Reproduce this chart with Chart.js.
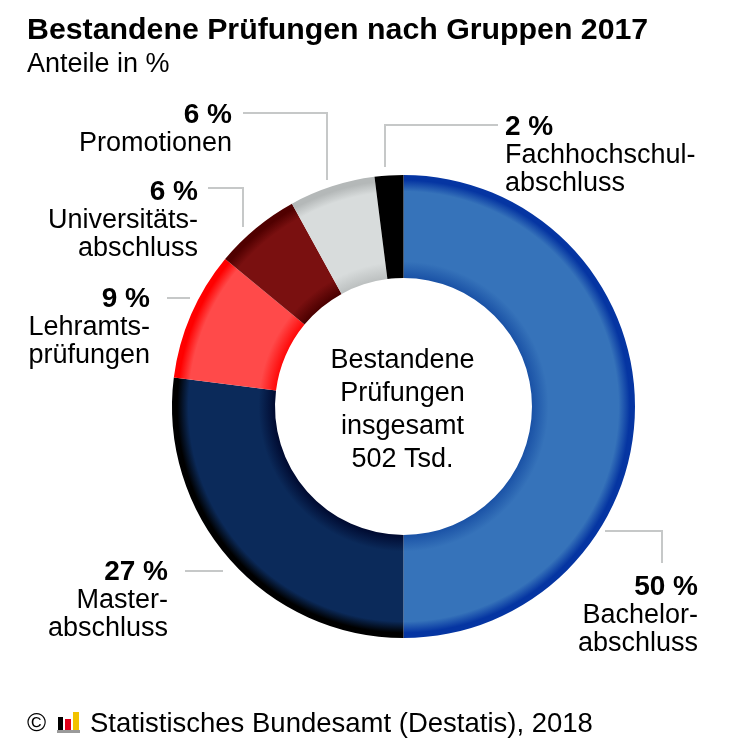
<!DOCTYPE html>
<html>
<head>
<meta charset="utf-8">
<script src="https://cdn.jsdelivr.net/npm/chart.js@4"></script>
<style>
  html, body { margin: 0; padding: 0; background: #fff; }
  #chart { display: block; }
</style>
</head>
<body>
<canvas id="chart" width="739" height="755"></canvas>
<script>
// Bestandene Prüfungen nach Gruppen 2017 (Anteile in %)
const categories = [
    ["Bachelor-", "abschluss"],
    ["Master-", "abschluss"],
    ["Lehramts-", "prüfungen"],
    ["Universitäts-", "abschluss"],
    ["Promotionen"],
    ["Fachhochschul-", "abschluss"]
];
const shares = [50, 27, 9, 6, 6, 2];
const centerLines = ["Bestandene", "Prüfungen", "insgesamt", "502 Tsd."];
const titleText = "Bestandene Prüfungen nach Gruppen 2017";
const subtitleText = "Anteile in %";
const sourceText = "Statistisches Bundesamt (Destatis), 2018";

// ring shading: [inner edge, middle, outer edge]
const shades = [
    ["#1a52a6", "#3673ba", "#0535a2"],
    ["#000a30", "#0b2a5a", "#000000"],
    ["#ff0808", "#ff4a4a", "#ff0000"],
    ["#4a0000", "#7a1010", "#500000"],
    ["#bcc0c0", "#d8dcdc", "#b4b8b8"],
    ["#000000", "#000000", "#000000"]
];

// label placement (align, x, first baseline) and leader polylines
const labelLayout = [
    { align: "right", x: 698, y: 595, line: [[605, 531], [662, 531], [662, 563]] },
    { align: "right", x: 168, y: 580, line: [[185, 571], [223, 571]] },
    { align: "right", x: 150, y: 307, line: [[167, 298], [190, 298]] },
    { align: "right", x: 198, y: 200, line: [[208, 188], [243, 188], [243, 227]] },
    { align: "right", x: 232, y: 123, line: [[243, 113], [327, 113], [327, 180]] },
    { align: "left",  x: 505, y: 135, line: [[498, 125], [385, 125], [385, 167]] }
];

const FONT = '"Liberation Sans", Arial, sans-serif';
const CUTOUT = 0.555;

function ringFill(context) {
    const chart = context.chart;
    const area = chart.chartArea;
    const s = shades[context.dataIndex];
    if (!area) return s[1];
    const cx = (area.left + area.right) / 2;
    const cy = (area.top + area.bottom) / 2;
    const outer = Math.min(area.right - area.left, area.bottom - area.top) / 2;
    const inner = outer * CUTOUT;
    const g = chart.ctx.createRadialGradient(cx, cy, inner, cx, cy, outer);
    g.addColorStop(0, s[0]);
    g.addColorStop(0.16, s[1]);
    g.addColorStop(0.84, s[1]);
    g.addColorStop(0.95, s[2]);
    g.addColorStop(1, s[2]);
    return g;
}

const decorations = {
    id: "decorations",
    afterDraw(chart) {
        const ctx = chart.ctx;
        const meta = chart.getDatasetMeta(0);
        const arc0 = meta.data[0];
        ctx.save();
        ctx.fillStyle = "#000";
        ctx.textBaseline = "alphabetic";

        // title and subtitle
        ctx.textAlign = "left";
        ctx.font = "bold 30.3px " + FONT;
        ctx.fillText(titleText, 27, 39);
        ctx.font = "27px " + FONT;
        ctx.fillText(subtitleText, 27, 72);

        // leader lines
        ctx.strokeStyle = "#c6c8c8";
        ctx.lineWidth = 2;
        labelLayout.forEach(l => {
            ctx.beginPath();
            l.line.forEach((p, i) => i ? ctx.lineTo(p[0], p[1]) : ctx.moveTo(p[0], p[1]));
            ctx.stroke();
        });

        // slice labels
        labelLayout.forEach((l, i) => {
            ctx.textAlign = l.align;
            ctx.font = "bold 28px " + FONT;
            ctx.fillText(shares[i] + " %", l.x, l.y);
            ctx.font = "27px " + FONT;
            categories[i].forEach((t, k) => ctx.fillText(t, l.x, l.y + 28 * (k + 1)));
        });

        // centre text
        ctx.textAlign = "center";
        ctx.font = "27px " + FONT;
        const cx = arc0 ? arc0.x : 403;
        const cy = arc0 ? arc0.y : 407;
        centerLines.forEach((t, k) => ctx.fillText(t, cx - 1, cy - 39 + 33 * k));

        // source line with small logo
        ctx.textAlign = "left";
        ctx.font = "26px " + FONT;
        ctx.fillText("©", 27, 731);
        ctx.fillStyle = "#000";
        ctx.fillRect(58, 717, 5, 13);
        ctx.fillStyle = "#e0001a";
        ctx.fillRect(65, 719, 6, 11);
        ctx.fillStyle = "#f2c200";
        ctx.fillRect(73, 712, 6, 18);
        ctx.fillStyle = "#9a9a9a";
        ctx.fillRect(57, 730, 23, 3);
        ctx.fillStyle = "#000";
        ctx.font = "27.5px " + FONT;
        ctx.fillText(sourceText, 90, 732);
        ctx.restore();
    }
};

new Chart(document.getElementById("chart"), {
    type: "doughnut",
    data: {
        labels: categories.map(c => c.join("")),
        datasets: [{
            data: shares,
            backgroundColor: ringFill,
            borderWidth: 0,
            hoverOffset: 0
        }]
    },
    options: {
        responsive: false,
        animation: false,
        cutout: (CUTOUT * 100) + "%",
        rotation: 0,
        layout: { padding: { left: 172, right: 104, top: 175, bottom: 117 } },
        plugins: {
            legend: { display: false },
            tooltip: { enabled: false },
            title: { display: false }
        }
    },
    plugins: [decorations]
});
</script>
</body>
</html>
